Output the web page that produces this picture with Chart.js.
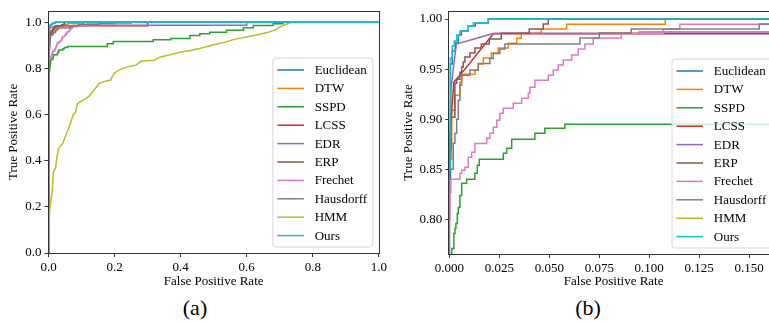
<!DOCTYPE html>
<html>
<head>
<meta charset="utf-8">
<script src="https://cdn.jsdelivr.net/npm/chart.js@4.4.0/dist/chart.umd.min.js"></script>
<style>
  html, body { margin: 0; padding: 0; background: #fff; }
  body { width: 769px; height: 322px; overflow: hidden; position: relative; font-family: "Liberation Serif", serif; }
  canvas { position: absolute; top: 0; }
  #chartA { left: 0; }
  #chartB { left: 390px; }
  .cap { position: absolute; top: 295px; font-size: 22px; line-height: 26px; transform: translateX(-50%); color: #000; }
</style>
</head>
<body>
<canvas id="chartA" width="390" height="292"></canvas>
<canvas id="chartB" width="400" height="292"></canvas>
<div class="cap" style="left:195px">(a)</div>
<div class="cap" style="left:588px">(b)</div>
<script>
// ROC points (fpr, tpr)
const methods = ['Euclidean', 'DTW', 'SSPD', 'LCSS', 'EDR', 'ERP', 'Frechet', 'Hausdorff', 'HMM', 'Ours'];

const euclideanFpr = [0, 0, 0.0006, 0.0015, 0.003, 0.0045, 0.006, 0.0095, 0.013, 0.0195, 1];
const euclideanTpr = [0, 0.84, 0.955, 0.968, 0.976, 0.984, 0.988, 0.993, 0.996, 1, 1];

const dtwFpr = [0, 0, 0.0012, 0.0028, 0.0053, 0.0062, 0.0128, 0.0145, 0.017, 0.021, 0.0245, 0.0295, 0.0337, 0.036, 0.046, 0.0587, 0.108, 1];
const dtwTpr = [0, 0.86, 0.909, 0.924, 0.937, 0.945, 0.949, 0.955, 0.961, 0.966, 0.971, 0.9757, 0.9807, 0.9857, 0.990, 0.9947, 1, 1];

const sspdFpr = [0, 0, 0.0012, 0.0023, 0.0028, 0.0033, 0.004, 0.0045, 0.0053, 0.0062, 0.0087, 0.0128, 0.014, 0.015, 0.027, 0.0287, 0.0312, 0.0428, 0.0478, 0.0578, 0.178, 0.196, 0.317, 0.37, 0.428, 0.458, 0.488, 0.539, 0.59, 0.62, 0.68, 0.71, 1];
const sspdTpr = [0, 0.745, 0.771, 0.786, 0.791, 0.796, 0.806, 0.812, 0.824, 0.836, 0.840, 0.846, 0.854, 0.860, 0.866, 0.871, 0.880, 0.886, 0.891, 0.895, 0.907, 0.917, 0.924, 0.930, 0.943, 0.950, 0.957, 0.966, 0.976, 0.986, 0.994, 1, 1];

const lcssFpr = [0, 0, 0.0012, 0.0023, 0.0062, 0.022, 0.3, 0.3, 1];
const lcssTpr = [0, 0.879, 0.909, 0.937, 0.946, 0.9853, 0.9853, 1, 1];

const edrFpr = [0, 0, 0.0008, 0.0035, 0.0225, 0.095, 0.095, 0.6, 0.6, 1];
const edrTpr = [0, 0.85, 0.93, 0.975, 0.9857, 0.9857, 0.987, 0.987, 1, 1];

const erpFpr = [0, 0, 0.0008, 0.0028, 0.0037, 0.0053, 0.0062, 0.007, 0.0078, 0.0103, 0.0128, 0.016, 0.02, 0.026, 0.04, 0.047, 0.0495, 1];
const erpTpr = [0, 0.87, 0.902, 0.936, 0.94, 0.947, 0.952, 0.957, 0.962, 0.966, 0.971, 0.975, 0.98, 0.9857, 0.99, 0.995, 1, 1];

const frechetFpr = [0, 0, 0.0003, 0.0008, 0.0053, 0.0062, 0.0078, 0.0095, 0.0112, 0.0128, 0.0187, 0.0203, 0.022, 0.0237, 0.0253, 0.027, 0.032, 0.0362, 0.0395, 0.0403, 0.0428, 0.0495, 0.052, 0.0545, 0.057, 0.0612, 0.0645, 0.0678, 0.072, 0.086, 0.107, 0.1153, 0.25, 1];
const frechetTpr = [0, 0.80, 0.827, 0.84, 0.846, 0.849, 0.852, 0.862, 0.867, 0.8757, 0.881, 0.886, 0.892, 0.899, 0.906, 0.911, 0.916, 0.921, 0.926, 0.932, 0.939, 0.944, 0.949, 0.954, 0.959, 0.964, 0.97, 0.975, 0.981, 0.9857, 0.99, 0.9947, 1, 1];

const hausdorffFpr = [0, 0, 0.002, 0.0028, 0.0037, 0.0045, 0.0053, 0.0062, 0.0103, 0.0145, 0.0203, 0.022, 0.0253, 0.0278, 0.0653, 0.075, 0.091, 0.155, 0.2, 1];
const hausdorffTpr = [0, 0.85, 0.876, 0.886, 0.90, 0.919, 0.934, 0.944, 0.949, 0.9557, 0.9607, 0.9657, 0.97, 0.975, 0.981, 0.986, 0.990, 0.995, 1, 1];

const hmmFpr = [0, 0.0015, 0.0015, 0.0045, 0.0116, 0.0146, 0.0217, 0.0267, 0.0318, 0.042, 0.057, 0.067, 0.075, 0.082, 0.087, 0.097, 0.1125, 0.123, 0.138, 0.153, 0.173, 0.188, 0.198, 0.213, 0.239, 0.264, 0.279, 0.319, 0.339, 0.37, 0.40, 0.43, 0.46, 0.50, 0.53, 0.56, 0.62, 0.66, 0.68, 0.70, 0.726, 0.74, 1];
const hmmTpr = [0, 0.056, 0.128, 0.199, 0.27, 0.349, 0.371, 0.427, 0.456, 0.471, 0.528, 0.564, 0.60, 0.61, 0.645, 0.657, 0.668, 0.68, 0.707, 0.735, 0.745, 0.75, 0.778, 0.793, 0.807, 0.814, 0.831, 0.836, 0.85, 0.86, 0.871, 0.878, 0.888, 0.903, 0.912, 0.925, 0.943, 0.955, 0.964, 0.979, 0.996, 1, 1];

const oursFpr = [0, 0, 0.0004, 0.0015, 0.0025, 0.0037, 0.0053, 0.0095, 0.012, 0.0195, 1];
const oursTpr = [0, 0.85, 0.961, 0.973, 0.978, 0.984, 0.988, 0.993, 0.996, 1, 1];

// tick values
const xTicksA = [0, 0.2, 0.4, 0.6, 0.8, 1.0];
const yTicksA = [0, 0.2, 0.4, 0.6, 0.8, 1.0];
const xTicksB = [0, 0.025, 0.05, 0.075, 0.1, 0.125, 0.15];
const yTicksB = [0.8, 0.85, 0.9, 0.95, 1.0];

const fprs = [euclideanFpr, dtwFpr, sspdFpr, lcssFpr, edrFpr, erpFpr, frechetFpr, hausdorffFpr, hmmFpr, oursFpr];
const tprs = [euclideanTpr, dtwTpr, sspdTpr, lcssTpr, edrTpr, erpTpr, frechetTpr, hausdorffTpr, hmmTpr, oursTpr];
const colors = ['#1f77b4', '#ff7f0e', '#2ca02c', '#d62728', '#9467bd', '#8c564b', '#e377c2', '#7f7f7f', '#bcbd22', '#17becf'];
const stepModes = ['before', 'before', 'before', false, false, 'before', 'before', 'before', false, 'before'];

Chart.defaults.font.family = '"Liberation Serif", "Times New Roman", serif';
Chart.defaults.font.size = 13;
Chart.defaults.color = '#000';

function makeDatasets() {
    return methods.map((m, i) => ({
        label: m,
        data: fprs[i].map((x, j) => ({ x: x, y: tprs[i][j] })),
        borderColor: colors[i],
        backgroundColor: colors[i],
        borderWidth: 1.5,
        pointRadius: 0,
        fill: false,
        tension: 0,
        stepped: stepModes[i],
        order: methods.length - i
    }));
}

// axes frame, drawn over the curves
const framePlugin = {
    id: 'frame',
    afterDatasetsDraw(chart) {
        const { ctx, chartArea: a } = chart;
        ctx.save();
        ctx.strokeStyle = '#333';
        ctx.lineWidth = 1;
        const l = Math.round(a.left) - 0.5, t = Math.round(a.top) + 0.5;
        const r = Math.round(a.right) + 0.5, b = Math.round(a.bottom) + 0.5;
        ctx.strokeRect(l, t, r - l, b - t);
        ctx.restore();
    }
};

// matplotlib-like legend in the lower right of the axes
const legendPlugin = {
    id: 'insideLegend',
    afterDatasetsDraw(chart) {
        const { ctx, chartArea: a } = chart;
        const w = 100, h = 189, row = 18.4;
        const x0 = a.right - 6.5 - w, y0 = a.bottom - 6.5 - h;
        ctx.save();
        ctx.beginPath();
        ctx.roundRect(x0 + 0.5, y0 + 0.5, w, h, 3);
        ctx.fillStyle = 'rgba(255,255,255,0.8)';
        ctx.fill();
        ctx.strokeStyle = '#d6d6d6';
        ctx.lineWidth = 1;
        ctx.stroke();
        ctx.font = '13px "Liberation Serif", serif';
        ctx.textBaseline = 'middle';
        ctx.textAlign = 'left';
        chart.data.datasets.forEach((ds, i) => {
            const y = y0 + 12.5 + i * row;
            ctx.strokeStyle = ds.borderColor;
            ctx.lineWidth = 1.5;
            ctx.beginPath();
            ctx.moveTo(x0 + 5, y);
            ctx.lineTo(x0 + 31.5, y);
            ctx.stroke();
            ctx.fillStyle = '#000';
            ctx.fillText(ds.label, x0 + 42.3, y + 0.5);
        });
        ctx.restore();
    }
};

function createChart(id, cfg) {
    return new Chart(document.getElementById(id), {
        type: 'line',
        data: { datasets: makeDatasets() },
        options: {
            responsive: false,
            animation: false,
            events: [],
            layout: { padding: { left: 0, top: cfg.top, right: cfg.right, bottom: 0 } },
            plugins: { legend: { display: false }, tooltip: { enabled: false } },
            scales: {
                x: {
                    type: 'linear',
                    min: cfg.xMin,
                    max: cfg.xMax,
                    afterBuildTicks: s => { s.ticks = cfg.xTicks.map(v => ({ value: v })); },
                    afterFit: s => { s.height = cfg.xHeight; },
                    ticks: {
                        autoSkip: false,
                        maxRotation: 0,
                        padding: 3,
                        callback: v => v.toFixed(cfg.xDigits)
                    },
                    grid: { drawOnChartArea: false, drawTicks: true, tickLength: 4, color: '#333' },
                    border: { display: false },
                    title: { display: true, text: 'False Positive Rate', padding: { top: 0, bottom: 3 } }
                },
                y: {
                    type: 'linear',
                    min: cfg.yMin,
                    max: cfg.yMax,
                    afterBuildTicks: s => { s.ticks = cfg.yTicks.map(v => ({ value: v })); },
                    afterFit: s => { s.width = cfg.yWidth; },
                    ticks: {
                        autoSkip: false,
                        padding: 3,
                        callback: v => v.toFixed(cfg.yDigits)
                    },
                    grid: { drawOnChartArea: false, drawTicks: true, tickLength: 4, color: '#333' },
                    border: { display: false },
                    title: { display: true, text: 'True Positive Rate', padding: { top: cfg.yTitlePad, bottom: 0 } }
                }
            }
        },
        plugins: [framePlugin, legendPlugin]
    });
}

createChart('chartA', {
    top: 8, right: 11, xMin: 0, xMax: 1, yMin: 0, yMax: 1.05,
    xTicks: xTicksA, yTicks: yTicksA, xDigits: 1, yDigits: 1,
    xHeight: 39, yWidth: 48.5, yTitlePad: 6.2
});

createChart('chartB', {
    top: 11, right: 12, xMin: 0, xMax: 0.1644, yMin: 0.7655, yMax: 1.008,
    xTicks: xTicksB, yTicks: yTicksB, xDigits: 3, yDigits: 2,
    xHeight: 38, yWidth: 59.3, yTitlePad: 10.5
});
</script>
</body>
</html>
